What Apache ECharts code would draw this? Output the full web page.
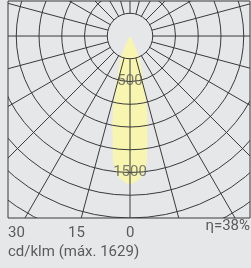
<!DOCTYPE html>
<html>
<head>
<meta charset="utf-8">
<script src="https://cdn.jsdelivr.net/npm/echarts@6/dist/echarts.min.js"></script>
<style>
html, body { margin: 0; padding: 0; background: #e6e7e9; }
#chart { width: 251px; height: 268px; }
</style>
</head>
<body>
<div id="chart"></div>
<script>
// luminous intensity curve (cd/klm), half-angle in degrees from nadir
var angles = [0, 2.5, 5, 7.5, 10, 12.5, 15, 17.5, 20, 22.5, 25, 27.5, 30];
var intensity = [1629, 1600, 1540, 1400, 1100, 880, 630, 460, 350, 270, 150, 50, 0];
// polar grid
var rings = [250, 500, 750, 1000, 1250, 1500, 1750, 2000, 2250, 2500, 2750];
var rays = [0, 15, 30, 45, 60, 75, 90, 105, 120, 135, 150, 165, 180, 195, 210, 225, 240, 255, 270, 285, 300, 315, 330, 345];
var ringLabels = [500, 1500];
var angleLabels = ['30', '15', '0'];

var myChart = echarts.init(document.getElementById('chart'));
var rad = Math.PI / 180;
var txt = '#5b5b5b';
var font = 'Roboto';

function toXY(r, deg) {
    return [r * Math.sin(deg * rad), -r * Math.cos(deg * rad)];
}

option = {
    backgroundColor: '#e6e7e9',
    animation: false,
    grid: {left: 8, right: 1, top: 1, height: 217, show: true, borderColor: '#3a3a3a', borderWidth: 1, backgroundColor: 'transparent'},
    xAxis: {type: 'value', min: -1341, max: 1319, show: false},
    yAxis: {type: 'value', min: -2000, max: 385, show: false},
    series: [
        {
            // yellow lobe
            type: 'custom',
            clip: true,
            z: 1,
            data: [[0, 0]],
            renderItem: function (params, api) {
                var pts = [];
                for (var i = angles.length - 1; i >= 0; i--) {
                    pts.push(api.coord(toXY(intensity[i], -angles[i])));
                }
                for (var j = 1; j < angles.length; j++) {
                    pts.push(api.coord(toXY(intensity[j], angles[j])));
                }
                return {type: 'polygon', shape: {points: pts, smooth: 0.25}, style: {fill: '#f7f5b0', stroke: null}};
            }
        },
        {
            // rings and rays
            type: 'custom',
            clip: true,
            z: 2,
            data: [[0, 0]],
            renderItem: function (params, api) {
                var c = api.coord([0, 0]);
                var kids = [];
                rings.forEach(function (r) {
                    kids.push({type: 'circle', shape: {cx: c[0], cy: c[1], r: api.size([r, 0])[0]},
                        style: {fill: null, stroke: '#3a3a3a', lineWidth: 1}});
                });
                rays.forEach(function (a) {
                    var p1 = api.coord(toXY(rings[0], a));
                    var p2 = api.coord(toXY(3200, a));
                    kids.push({type: 'line', shape: {x1: p1[0], y1: p1[1], x2: p2[0], y2: p2[1]},
                        style: {stroke: '#3a3a3a', lineWidth: 1}});
                });
                return {type: 'group', children: kids};
            }
        },
        {
            type: 'scatter',
            z: 3,
            symbolSize: 0,
            data: ringLabels.map(function (v) { return [0, -v]; }),
            label: {
                show: true, position: 'inside', color: txt, fontFamily: font, fontSize: 15,
                formatter: function (p) { return String(-p.value[1]); }
            }
        }
    ],
    graphic: [
        {type: 'text', left: 8, top: 226, style: {text: angleLabels[0], fill: txt, font: '15px ' + font}},
        {type: 'text', left: 68, top: 226, style: {text: angleLabels[1], fill: txt, font: '15px ' + font}},
        {type: 'text', left: 126, top: 226, style: {text: angleLabels[2], fill: txt, font: '15px ' + font}},
        {type: 'text', right: 1, top: 219, style: {text: 'η=38%', fill: txt, font: '15px ' + font}},
        {type: 'text', left: 8, top: 245, style: {text: 'cd/klm (máx. 1629)', fill: txt, font: '15px ' + font}}
    ]
};
myChart.setOption(option);
</script>
</body>
</html>
